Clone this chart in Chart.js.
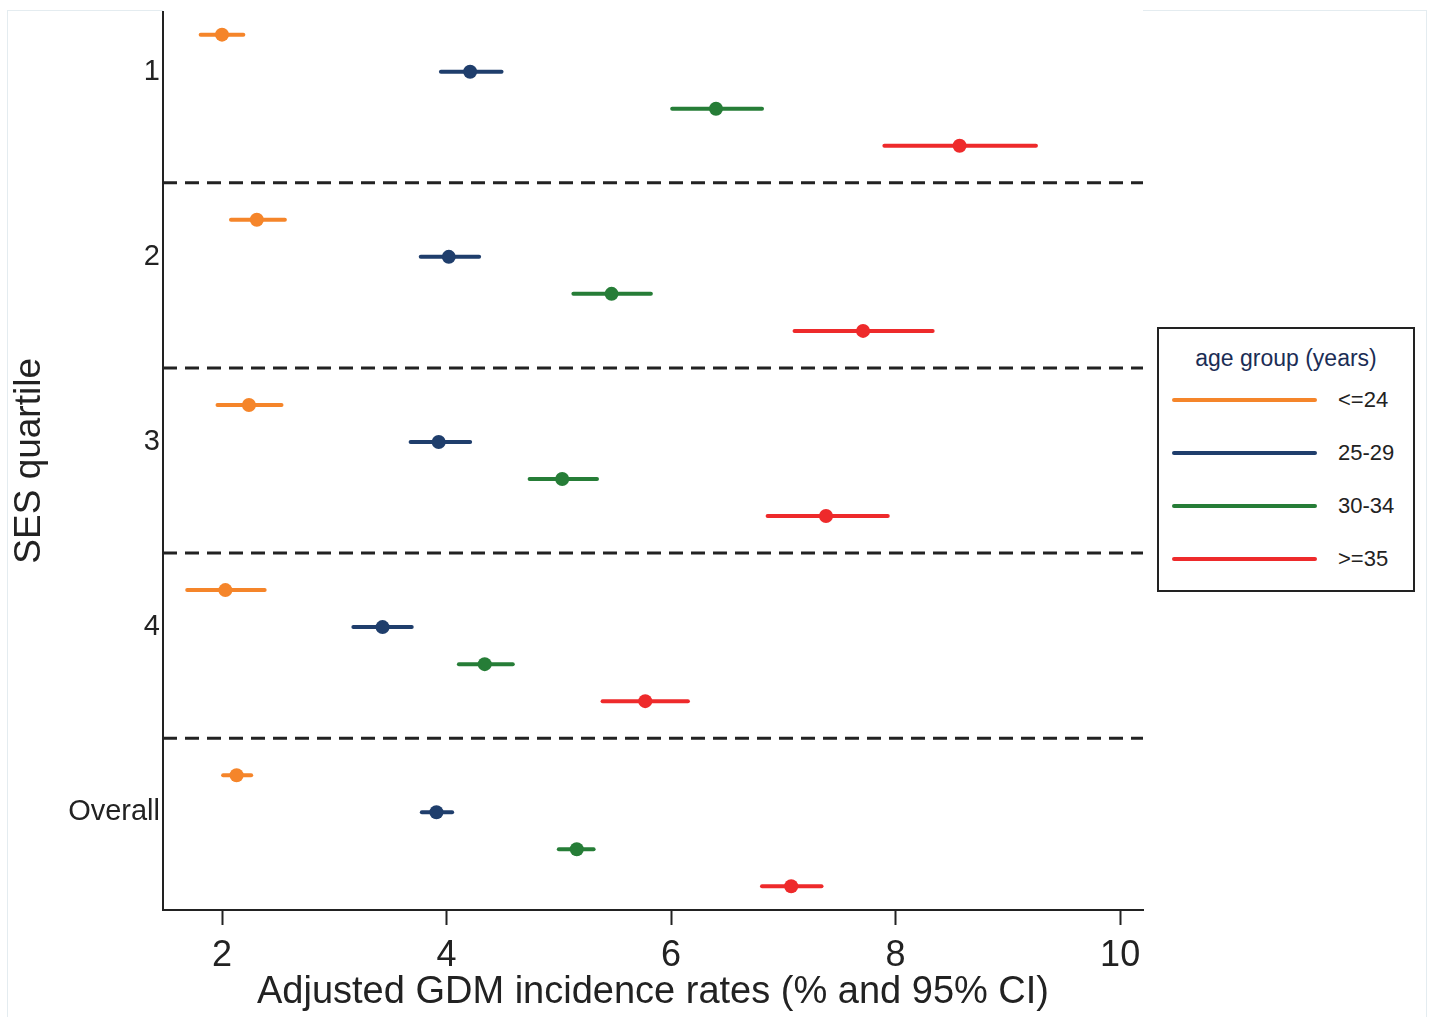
<!DOCTYPE html>
<html>
<head>
<meta charset="utf-8">
<script src="https://cdn.jsdelivr.net/npm/chart.js@4.4.1/dist/chart.umd.min.js"></script>
<style>
    html, body { margin: 0; padding: 0; background: #fff; }
    #wrap { position: relative; width: 1430px; height: 1017px; overflow: hidden; }
    #chart { position: absolute; left: 0; top: 0; }
    .frame { position: absolute; background: #e4ecf0; }
    #legend {
        position: absolute; left: 1157px; top: 327px; width: 254px; height: 261px;
        border: 2px solid #222; background: #fff;
        font-family: "Liberation Sans", Arial, sans-serif;
    }
    #legend .title { position: absolute; left: 0; right: 0; top: 16px; text-align: center; font-size: 23px; color: #1b2d55; }
    #legend .item { position: absolute; left: 13px; height: 26px; width: 240px; }
    #legend .swatch { position: absolute; left: 0; top: 11px; width: 145px; height: 4px; border-radius: 2px; }
    #legend .label { position: absolute; left: 166px; top: 0; font-size: 22px; line-height: 26px; color: #222; }
</style>
</head>
<body>
<div id="wrap">
    <div class="frame" style="left:7px; top:10px; width:156px; height:1px;"></div>
    <div class="frame" style="left:1143px; top:10px; width:284px; height:1px;"></div>
    <div class="frame" style="left:7px; top:10px; width:1px; height:1010px;"></div>
    <div class="frame" style="left:1426px; top:10px; width:1px; height:1010px;"></div>
    <canvas id="chart" width="1430" height="1017"></canvas>
    <div id="legend"><div class="title">age group (years)</div></div>
</div>
<script>
const quartiles = ['1', '2', '3', '4', 'Overall'];
const ageGroups = ['<=24', '25-29', '30-34', '>=35'];
const ageColors = ['#f5852a', '#1f3e6c', '#267d37', '#ee2a2b'];

// adjusted GDM incidence rate (%), one value per quartile row
const rateLe24 = [2.00, 2.31, 2.24, 2.03, 2.13];
const lowLe24 = [1.81, 2.08, 1.96, 1.69, 2.01];
const highLe24 = [2.19, 2.56, 2.53, 2.38, 2.26];

const rate2529 = [4.21, 4.02, 3.93, 3.43, 3.91];
const low2529 = [3.95, 3.77, 3.68, 3.17, 3.78];
const high2529 = [4.49, 4.29, 4.21, 3.69, 4.05];

const rate3034 = [6.40, 5.47, 5.03, 4.34, 5.16];
const low3034 = [6.01, 5.13, 4.74, 4.11, 5.00];
const high3034 = [6.81, 5.82, 5.34, 4.59, 5.31];

const rateGe35 = [8.57, 7.71, 7.38, 5.77, 7.07];
const lowGe35 = [7.90, 7.10, 6.86, 5.39, 6.81];
const highGe35 = [9.25, 8.33, 7.93, 6.15, 7.34];

const xTicks = [2, 4, 6, 8, 10];

const rates = [rateLe24, rate2529, rate3034, rateGe35];
const lows = [lowLe24, low2529, low3034, lowGe35];
const highs = [highLe24, high2529, high3034, highGe35];

// each quartile block takes 5 rows: 4 age groups + a separator
const rowOf = (q, a) => q * 5 + a;
const labelRows = quartiles.map((q, i) => rowOf(i, 1));
const separatorRows = quartiles.slice(0, -1).map((q, i) => rowOf(i, 4));

const datasets = ageGroups.map((age, a) => ({
    label: age,
    data: rates[a].map((v, q) => ({ x: v, y: rowOf(q, a) })),
    backgroundColor: ageColors[a],
    borderColor: ageColors[a],
    pointRadius: 7,
    pointHoverRadius: 7,
    pointBorderWidth: 0,
    showLine: false
}));

const ciPlugin = {
    id: 'ciPlugin',
    beforeDatasetsDraw(chart) {
        const { ctx, chartArea, scales: { x, y } } = chart;
        ctx.save();
        ctx.strokeStyle = '#222';
        ctx.lineWidth = 3;
        ctx.setLineDash([14, 8]);
        separatorRows.forEach(r => {
            const py = y.getPixelForValue(r);
            ctx.beginPath();
            ctx.moveTo(chartArea.left, py);
            ctx.lineTo(chartArea.right, py);
            ctx.stroke();
        });
        ctx.setLineDash([]);
        ctx.lineWidth = 4;
        ctx.lineCap = 'round';
        ageGroups.forEach((age, a) => {
            ctx.strokeStyle = ageColors[a];
            quartiles.forEach((q, i) => {
                const py = y.getPixelForValue(rowOf(i, a));
                ctx.beginPath();
                ctx.moveTo(x.getPixelForValue(lows[a][i]), py);
                ctx.lineTo(x.getPixelForValue(highs[a][i]), py);
                ctx.stroke();
            });
        });
        ctx.restore();
    }
};

const font = '"Liberation Sans", Arial, sans-serif';

new Chart(document.getElementById('chart'), {
    type: 'scatter',
    data: { datasets: datasets },
    plugins: [ciPlugin],
    options: {
        responsive: false,
        animation: false,
        layout: { padding: { top: 10, right: 287, bottom: 0, left: 0 } },
        plugins: { legend: { display: false }, tooltip: { enabled: false } },
        scales: {
            x: {
                type: 'linear',
                min: 1.4744,
                max: 10.2036,
                afterBuildTicks: scale => { scale.ticks = xTicks.map(v => ({ value: v })); },
                afterFit: scale => { scale.height = 107; },
                grid: { drawOnChartArea: false, drawTicks: true, tickLength: 15, tickColor: '#222', tickWidth: 2 },
                border: { color: '#222', width: 2 },
                ticks: { color: '#222', font: { family: font, size: 36, lineHeight: 0.6 }, padding: 20, maxRotation: 0 },
                title: {
                    display: true,
                    text: 'Adjusted GDM incidence rates (% and 95% CI)',
                    color: '#222',
                    font: { family: font, size: 38 },
                    padding: { top: 0, bottom: 2 }
                }
            },
            y: {
                type: 'linear',
                reverse: true,
                min: -0.62,
                max: 23.64,
                afterBuildTicks: scale => { scale.ticks = labelRows.map(v => ({ value: v })); },
                afterFit: scale => { scale.width = 163; },
                grid: { display: false, drawTicks: false },
                border: { color: '#222', width: 2 },
                ticks: {
                    color: '#222',
                    font: { family: font, size: 29, lineHeight: 0.6 },
                    padding: 3,
                    callback: value => quartiles[labelRows.indexOf(value)]
                },
                title: {
                    display: true,
                    text: 'SES quartile',
                    color: '#222',
                    font: { family: font, size: 37 },
                    padding: { top: 8, bottom: 0 }
                }
            }
        }
    }
});

const legend = document.getElementById('legend');
ageGroups.forEach((age, a) => {
    const item = document.createElement('div');
    item.className = 'item';
    item.style.top = (58 + a * 53) + 'px';
    item.innerHTML = '<div class="swatch" style="background:' + ageColors[a] + '"></div><div class="label"></div>';
    item.querySelector('.label').textContent = age;
    legend.appendChild(item);
});
</script>
</body>
</html>
